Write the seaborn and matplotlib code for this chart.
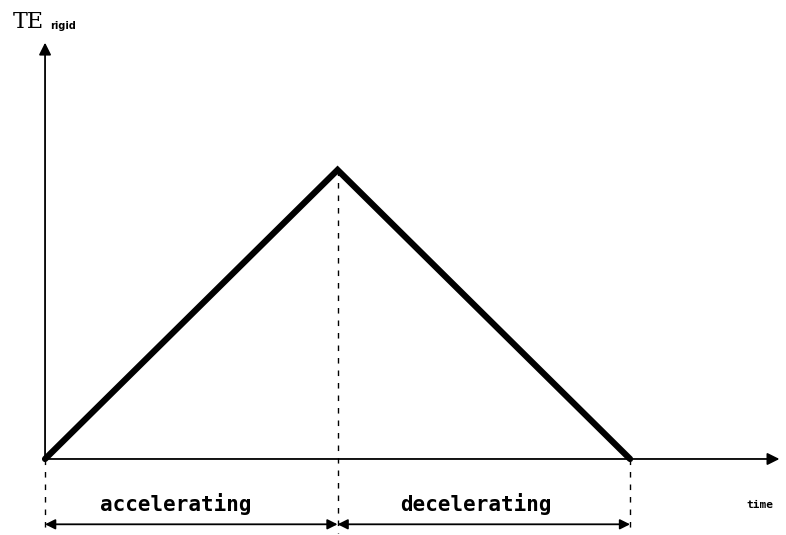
import numpy as np
import pandas as pd
import matplotlib
matplotlib.use('Agg')
import matplotlib.pyplot as plt
import seaborn as sns

# data
time = [0, 1, 2]
te_rigid = [0, 1, 0]
phase_names = ['accelerating', 'decelerating']
phase_bounds = [0, 1, 2]

sns.set_style('white')
plt.rcParams['text.color'] = 'black'

fig = plt.figure(figsize=(7.86, 5.35), dpi=100)
ax = fig.add_axes([0, 0, 1, 1])
ax.set_xlim(-0.154, 2.533)
ax.set_ylim(-0.263, 1.588)
ax.axis('off')

df = pd.DataFrame({'time': time, 'te': te_rigid})
sns.lineplot(data=df, x='time', y='te', color='black', linewidth=4.5, ax=ax,
             solid_joinstyle='miter')

# axes with arrows
ax.annotate('', xy=(0, 1.45), xytext=(0, 0),
            arrowprops=dict(arrowstyle='-|>', color='black', lw=1.3, mutation_scale=18))
ax.annotate('', xy=(2.52, 0), xytext=(0, 0),
            arrowprops=dict(arrowstyle='-|>', color='black', lw=1.3, mutation_scale=18))

# dashed guides
y_low = -0.255
ax.plot([0, 0], [0, y_low], color='black', lw=1, ls=(0, (4, 5)))
ax.plot([1, 1], [1, y_low], color='black', lw=1, ls=(0, (4, 5)))
ax.plot([2, 2], [0, y_low], color='black', lw=1, ls=(0, (4, 5)))

# phase arrows and labels
y_arr = -0.226
label_shift = [-0.052, -0.026]
for i, name in enumerate(phase_names):
    x0, x1 = phase_bounds[i], phase_bounds[i + 1]
    ax.annotate('', xy=(x1, y_arr), xytext=(x0, y_arr),
                arrowprops=dict(arrowstyle='<|-|>', color='black', lw=1.3,
                                mutation_scale=15, shrinkA=0, shrinkB=0))
    ax.text((x0 + x1) / 2 + label_shift[i], -0.155, name, ha='center', va='center',
            fontsize=15, fontweight='bold', family='DejaVu Sans Mono', color='black')

ax.text(2.444, -0.16, 'time', ha='center', va='center', fontsize=8,
        fontweight='bold', family='DejaVu Sans Mono', color='black')

ax.text(-0.058, 1.512, 'TE', ha='center', va='center', fontsize=16,
        family='DejaVu Serif', color='black')
ax.text(0.062, 1.497, 'rigid', ha='center', va='center', fontsize=7,
        fontweight='bold', family='DejaVu Sans', color='black')

fig.savefig('out.png', dpi=100)
